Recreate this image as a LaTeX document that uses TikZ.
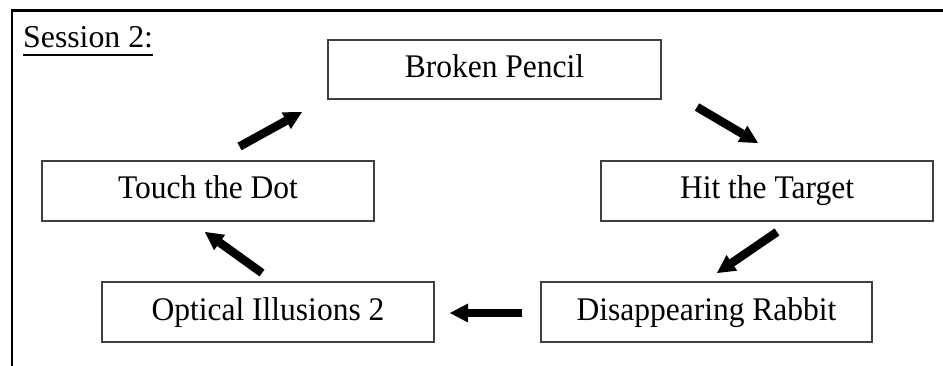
\documentclass[tikz,border=0pt]{standalone}
\usepackage{fontspec}
\setmainfont{Liberation Serif}
\newfontfamily\boxfont{Liberation Serif}[FakeStretch=0.955]
\usetikzlibrary{arrows.meta,calc}
\tikzset{
  stagebox/.style={draw=black!75, line width=1.1pt, fill=white, inner sep=0pt,
    minimum height=60pt, minimum width=332pt,
    font=\boxfont\fontsize{33}{40}\selectfont, text height=23pt, text depth=7pt},
  flowarrow/.style={line width=8.5pt, -{Triangle[width=19pt,length=18pt,line width=0pt]}},
  frameline/.style={line width=2.5pt, line join=miter},
}
\begin{document}
\begin{tikzpicture}[x=1pt,y=-1pt]
\useasboundingbox (0,0) rectangle (943,366);
% outer frame
\coordinate (fbl) at (12.2,366);
\coordinate (ftl) at (12.2,10.7);
\coordinate (ftr) at (943,10.7);
\draw[frameline] (fbl) -- (ftl) -- (ftr);
% title
\node[anchor=base west, inner sep=0pt, font=\fontsize{31.8}{38}\selectfont] (session) at (23,48) {Session 2:};
\draw[line width=1.6pt] ($(session.base west)+(0,7)$) -- ($(session.base east)+(0,7)$);
% boxes
\node[stagebox, minimum width=333pt, minimum height=59pt] (broken) at (494.5,69.5) {Broken Pencil};
\node[stagebox] (touch) at (208,191) {Touch the Dot};
\node[stagebox] (hit) at (767,191) {Hit the Target};
\node[stagebox] (optical) at (268,312) {Optical Illusions 2};
\node[stagebox, minimum width=331pt] (disapp) at (706.5,312) {Disappearing Rabbit};
% arrow end points
\coordinate (a1s) at (239.5,146.5);
\coordinate (a1e) at (302,112);
\coordinate (a2s) at (697,107);
\coordinate (a2e) at (758,143);
\coordinate (a3s) at (777,232);
\coordinate (a3e) at (717,273);
\coordinate (a4s) at (522,313);
\coordinate (a4e) at (450,313);
\coordinate (a5s) at (262,273);
\coordinate (a5e) at (205,232);
\draw[flowarrow] (a1s) -- (a1e);
\draw[flowarrow] (a2s) -- (a2e);
\draw[flowarrow] (a3s) -- (a3e);
\draw[flowarrow] (a4s) -- (a4e);
\draw[flowarrow] (a5s) -- (a5e);
\end{tikzpicture}
\end{document}
